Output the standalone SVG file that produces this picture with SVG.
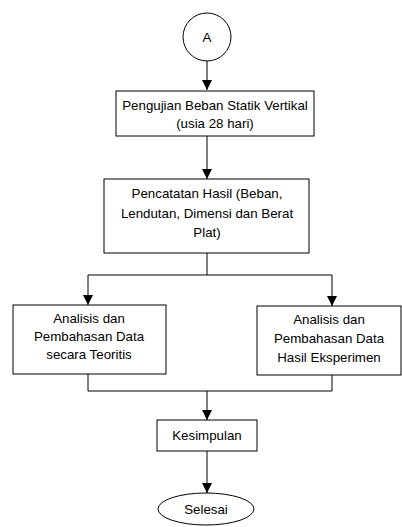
<svg xmlns="http://www.w3.org/2000/svg" width="402" height="527" viewBox="0 0 402 527">
<style>
.box{fill:#fff;stroke:#000;stroke-width:1}
.ln{fill:none;stroke:#000;stroke-width:1}
text{font-family:"Liberation Sans",Arial,sans-serif;font-size:13.3px;fill:#000;text-anchor:middle}
</style>
<defs>
<marker id="ah" markerWidth="10" markerHeight="12" refX="10" refY="5" orient="auto" markerUnits="userSpaceOnUse" viewBox="0 0 10 10">
<path d="M0,0 L10,5 L0,10 Z" fill="#000"/>
</marker>
</defs>
<rect width="402" height="527" fill="#fff"/>
<g id="connectors">
<line class="ln" x1="207" y1="61" x2="207" y2="90" marker-end="url(#ah)"/>
<line class="ln" x1="207" y1="136" x2="207" y2="179" marker-end="url(#ah)"/>
<polyline class="ln" points="207,253 207,275"/>
<polyline class="ln" points="207,275 88,275 88,305" marker-end="url(#ah)"/>
<polyline class="ln" points="207,275 332,275 332,306" marker-end="url(#ah)"/>
<polyline class="ln" points="88,374 88,391 332,391 332,375"/>
<line class="ln" x1="207" y1="391" x2="207" y2="420" marker-end="url(#ah)"/>
<line class="ln" x1="207" y1="451" x2="207" y2="493" marker-end="url(#ah)"/>
</g>
<g id="nodeA">
<circle cx="207" cy="37" r="24" class="box"/>
<text x="207" y="42" font-size="15">A</text>
</g>
<g id="pengujian">
<rect class="box" x="116" y="91" width="198" height="45"/>
<text x="215" y="110">Pengujian Beban Statik Vertikal</text>
<text x="215" y="128">(usia 28 hari)</text>
</g>
<g id="pencatatan">
<rect class="box" x="104" y="179" width="205" height="74"/>
<text x="207" y="198">Pencatatan Hasil (Beban,</text>
<text x="207" y="218">Lendutan, Dimensi dan Berat</text>
<text x="207" y="237">Plat)</text>
</g>
<g id="teoritis">
<rect class="box" x="13" y="305" width="153" height="69"/>
<text x="89" y="323">Analisis dan</text>
<text x="89" y="341">Pembahasan Data</text>
<text x="89" y="359">secara Teoritis</text>
</g>
<g id="eksperimen">
<rect class="box" x="257" y="306" width="144" height="69"/>
<text x="329" y="324">Analisis dan</text>
<text x="329" y="343">Pembahasan Data</text>
<text x="329" y="362">Hasil Eksperimen</text>
</g>
<g id="kesimpulan">
<rect class="box" x="157" y="420" width="100" height="31"/>
<text x="207" y="440">Kesimpulan</text>
</g>
<g id="selesai">
<ellipse class="box" cx="206" cy="509" rx="48" ry="16"/>
<text x="206" y="514">Selesai</text>
</g>
</svg>
